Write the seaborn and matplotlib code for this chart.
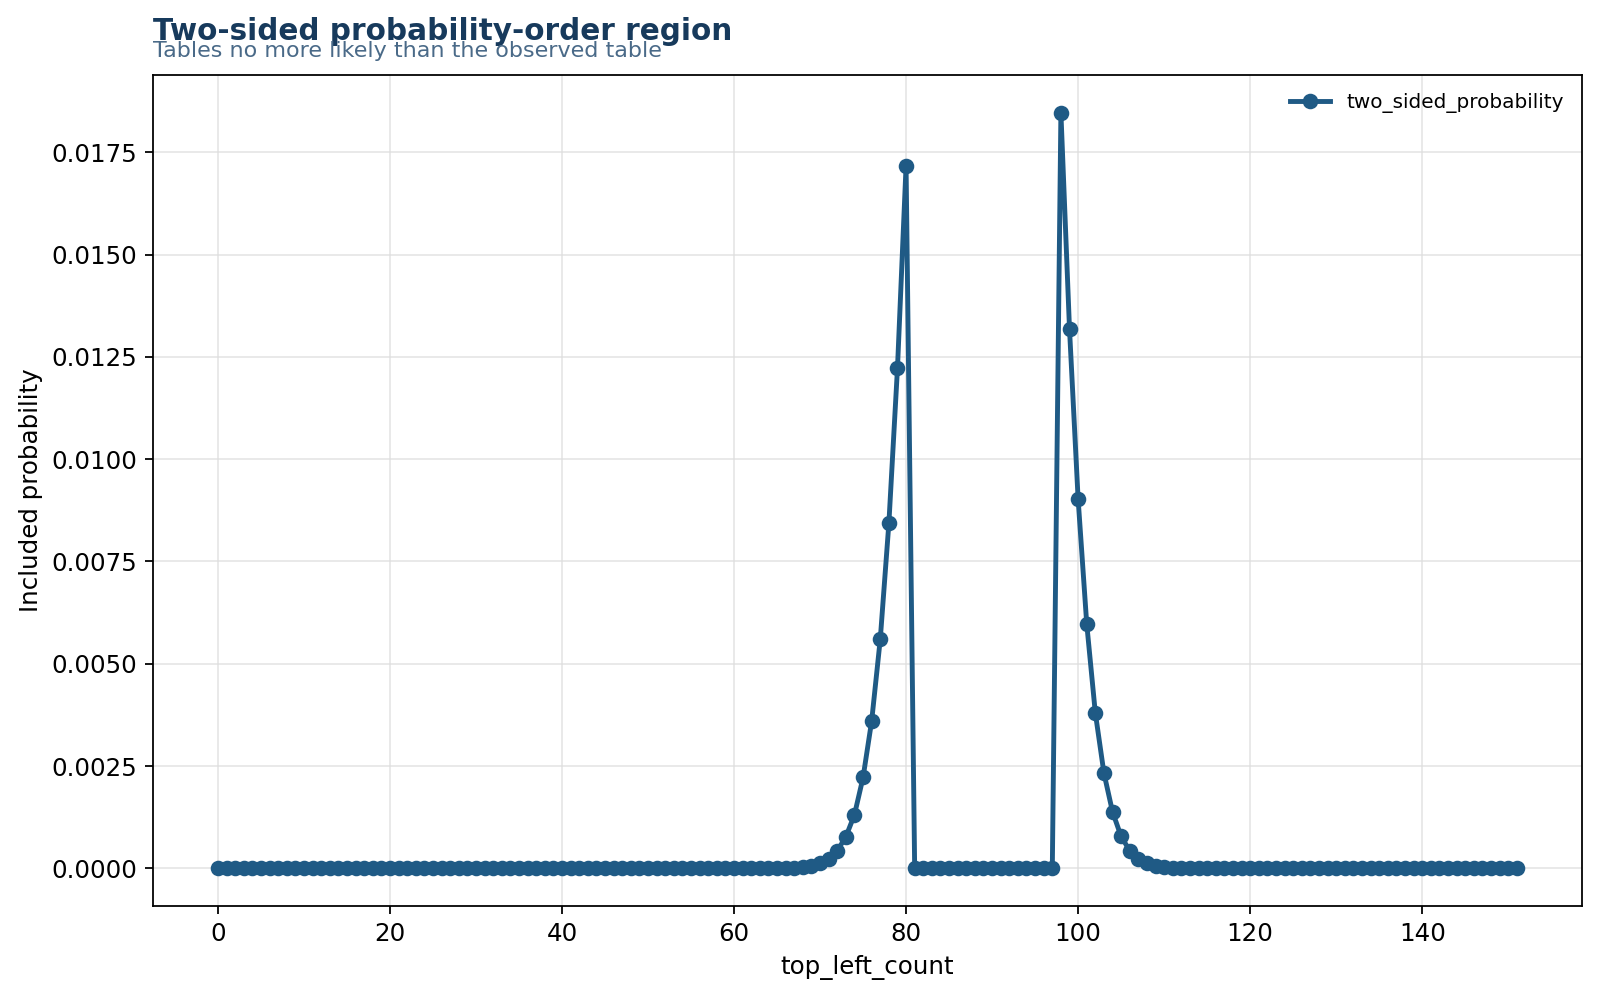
import numpy as np
import pandas as pd
import seaborn as sns
import matplotlib
matplotlib.use("Agg")
import matplotlib.pyplot as plt

# top_left_count 0..151
top_left_count = list(range(0, 152))

# left tail (0..80)
left_tail = [0.0] * 63 + [
    0.000001, 0.000002, 0.000004, 0.000007, 0.000015, 0.00003, 0.00006,
    0.00012, 0.00023, 0.00043, 0.00077, 0.00131, 0.00222, 0.0036,
    0.0056, 0.00843, 0.01222, 0.01717,
]
# excluded middle (81..97)
middle = [0.0] * 17
# right tail (98..151)
right_tail = [
    0.01847, 0.01318, 0.00903, 0.00598, 0.0038, 0.00233, 0.00138,
    0.00078, 0.00043, 0.00023, 0.00012, 0.00006, 0.00003, 0.000015,
    0.000007, 0.000004, 0.000002, 0.000001,
] + [0.0] * 36

two_sided_probability = left_tail + middle + right_tail

df = pd.DataFrame({"top_left_count": top_left_count,
                   "two_sided_probability": two_sided_probability})

line_color = "#1f5a85"

fig = plt.figure(figsize=(10, 6.24375), dpi=160)
ax = fig.add_axes([0.0956, 0.093, 0.893, 0.832])

sns.lineplot(data=df, x="top_left_count", y="two_sided_probability", ax=ax,
             color=line_color, marker="o", markersize=7, linewidth=2.2,
             markeredgewidth=0, label="two_sided_probability")

ax.grid(True, color="#dddddd", linewidth=0.8, alpha=0.7)
ax.set_axisbelow(True)
ax.set_xlabel("top_left_count", fontsize=11)
ax.set_ylabel("Included probability", fontsize=11)
ax.tick_params(labelsize=11)
ax.legend(loc="upper right", frameon=False, fontsize=9)

fig.text(0.0956, 0.96, "Two-sided probability-order region", fontsize=13.3,
         fontweight="bold", color="#173a5c", va="baseline")
fig.text(0.0956, 0.943, "Tables no more likely than the observed table",
         fontsize=10, color="#4a6a88", va="baseline")

fig.savefig("out.png", dpi=160)
